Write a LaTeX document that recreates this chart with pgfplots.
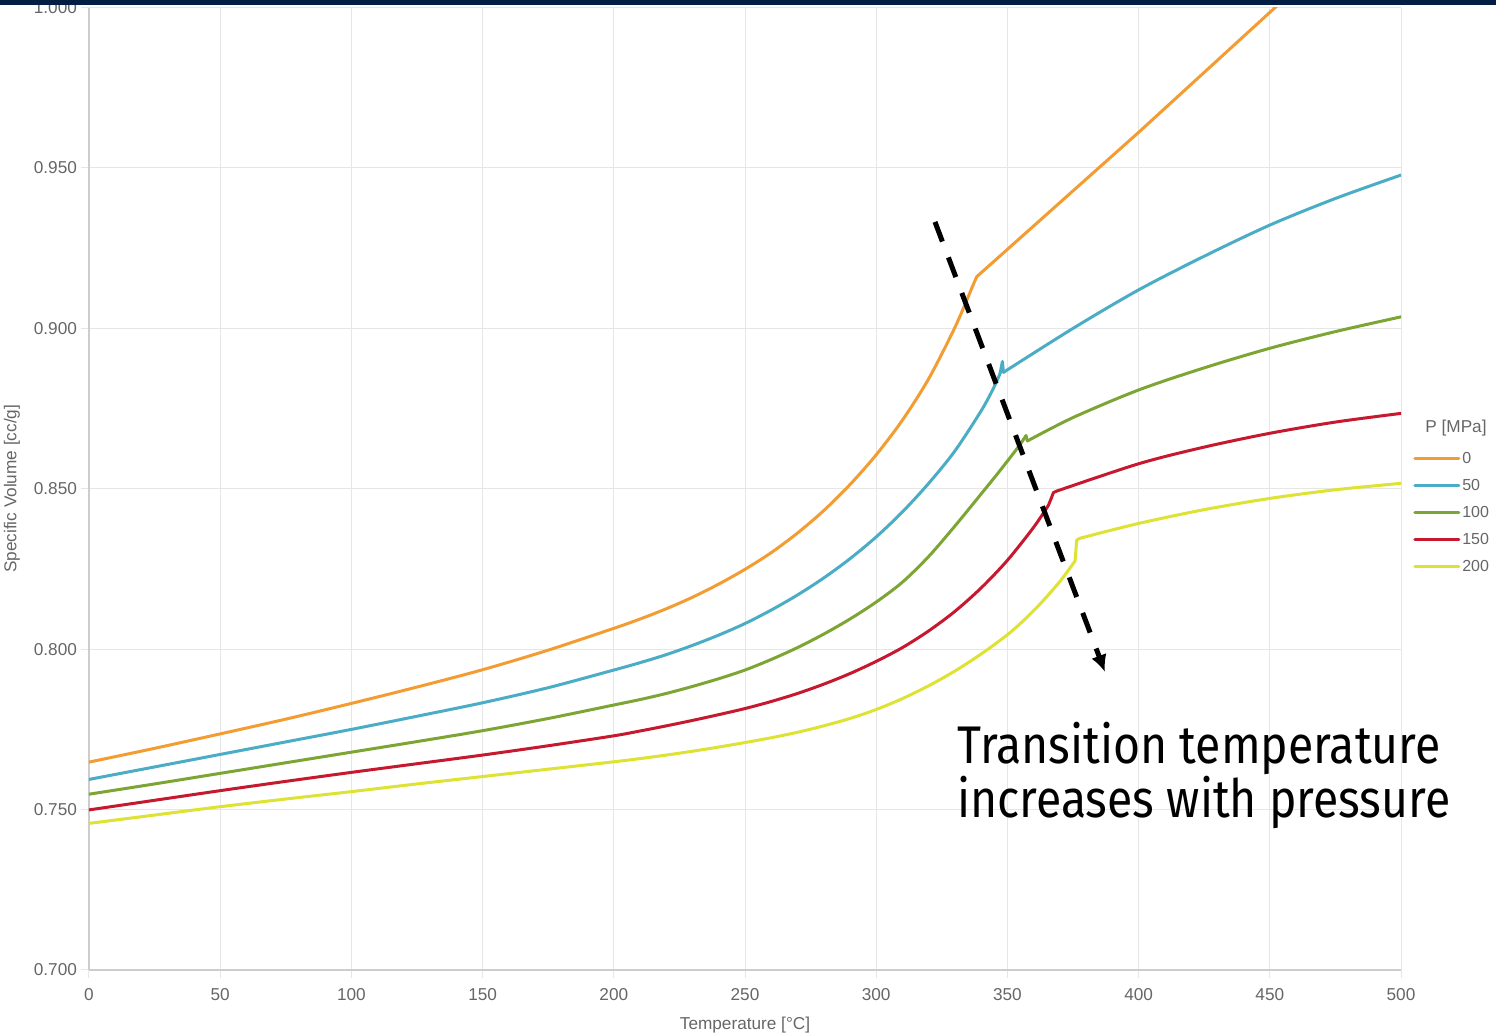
\documentclass[border=0pt]{standalone}
\usepackage{fontspec}
\setmainfont{Liberation Sans}
\newfontfamily\notefont[FakeStretch=0.875]{Fira Sans}
\usepackage{pgfplots}
\pgfplotsset{compat=1.18}
\usetikzlibrary{arrows.meta}

\definecolor{pOrange}{RGB}{242,156,50}
\definecolor{pBlue}{RGB}{75,172,198}
\definecolor{pGreen}{RGB}{124,165,52}
\definecolor{pRed}{RGB}{198,24,46}
\definecolor{pYellow}{RGB}{222,226,50}
\definecolor{barNavy}{RGB}{2,30,66}
\definecolor{gridGray}{RGB}{230,230,230}
\definecolor{axisGray}{RGB}{205,205,205}
\definecolor{labelGray}{RGB}{102,102,102}

\begin{document}
\begin{tikzpicture}
\path[use as bounding box, clip] (0,0) rectangle (748pt,516.5pt);
\begin{axis}[
  at={(44.5pt,31.5pt)}, anchor=south west,
  scale only axis, width=656pt, height=481.2pt,
  xmin=0, xmax=500, ymin=0.7, ymax=1.0,
  axis x line*=bottom, axis y line*=left,
  axis line style={draw=axisGray, line width=0.6pt, -},
  xtick={0,50,...,500},
  ytick={0.70,0.75,0.80,0.85,0.90,0.95,1.00},
  grid=major, grid style={draw=gridGray, line width=0.5pt},
  tick align=outside, major tick length=4pt,
  tick style={draw=gridGray, line width=0.5pt},
  ticklabel style={font=\fontsize{8.6}{10}\selectfont, text=labelGray},
  xticklabel style={yshift=-1.5pt},
  yticklabel style={xshift=1.5pt},
  /pgf/number format/assume math mode=true,
  yticklabel style={/pgf/number format/fixed, /pgf/number format/fixed zerofill,
    /pgf/number format/precision=3},
  xlabel={Temperature [°C]}, ylabel={Specific Volume [cc/g]},
  label style={font=\fontsize{8.6}{10}\selectfont, text=labelGray},
  xlabel style={at={(axis description cs:0.5,-0.0572)}, anchor=center},
  ylabel style={at={(axis description cs:-0.0587,0.5)}, anchor=center},
  legend style={at={(axis description cs:1.0091,0.541)}, anchor=north west,
    draw=none, fill=none, inner sep=0pt, row sep=4.5pt,
    font=\fontsize{8}{9.6}\selectfont, text=labelGray,
    nodes={inner sep=1pt, text height=6pt, text depth=1pt},
    /tikz/every even column/.append style={column sep=3pt}},
  legend cell align=left,
  legend image code/.code={\draw[line width=1.5pt] (0pt,0pt) -- (22pt,0pt);},
  every axis plot/.append style={line width=1.5pt, line join=round, line cap=round},
]
% 0 MPa: solid branch, then melt branch after the transition
\addplot[pOrange, smooth] coordinates {
 (0,0.7648)(25,0.7691)(50,0.7736)(75,0.7782)(100,0.7831)(125,0.7882)
 (150,0.7936)(175,0.7997)(200,0.8065)(210,0.8094)(220,0.8126)(230,0.8162)
 (240,0.8203)(250,0.8249)(260,0.8301)(270,0.8362)(280,0.8432)(290,0.8513)
 (300,0.8606)(310,0.8714)(320,0.8843)(330,0.9003)(336.4,0.9125)};
\addlegendentry{0}
\addplot[pOrange, forget plot] coordinates {
 (336.4,0.9125)(338.3,0.9161)(400,0.9611)(452,1.0000)(500,1.0355)};
% 50 MPa
\addplot[pBlue, smooth] coordinates {
 (0,0.7594)(25,0.7633)(50,0.7672)(75,0.7711)(100,0.7750)(125,0.7791)
 (150,0.7833)(175,0.7880)(200,0.7935)(210,0.7958)(220,0.7983)(230,0.8012)
 (240,0.8044)(250,0.8080)(260,0.8122)(270,0.8169)(280,0.8222)(290,0.8282)
 (300,0.8350)(310,0.8428)(320,0.8517)(330,0.8618)(340,0.8743)(344.6,0.8812)
 (347.2,0.8859)};
\addlegendentry{50}
\addplot[pBlue, forget plot] coordinates {
 (347.2,0.8859)(348.1,0.8897)(348.5,0.8863)};
\addplot[pBlue, smooth, forget plot] coordinates {
 (348.5,0.8863)(375,0.9000)(400,0.9120)(425,0.9225)(450,0.9322)
 (475,0.9405)(500,0.9478)};
% 100 MPa
\addplot[pGreen, smooth] coordinates {
 (0,0.7548)(25,0.7580)(50,0.7613)(75,0.7646)(100,0.7679)(125,0.7712)
 (150,0.7746)(175,0.7784)(200,0.7826)(210,0.7843)(220,0.7862)(230,0.7884)
 (240,0.7908)(250,0.7935)(260,0.7968)(270,0.8005)(280,0.8047)(290,0.8094)
 (300,0.8147)(310,0.8209)(320,0.8289)(330,0.8384)(340,0.8484)(347.2,0.8557)
 (354.2,0.8631)(357.1,0.8666)};
\addlegendentry{100}
\addplot[pGreen, forget plot] coordinates {
 (357.1,0.8666)(357.6,0.8649)};
\addplot[pGreen, smooth, forget plot] coordinates {
 (357.6,0.8649)(375,0.8722)(400,0.8808)(425,0.8877)(450,0.8938)
 (475,0.8990)(500,0.9036)};
% 150 MPa
\addplot[pRed, smooth] coordinates {
 (0,0.7499)(25,0.7529)(50,0.7559)(75,0.7588)(100,0.7616)(125,0.7643)
 (150,0.7670)(175,0.7699)(200,0.7730)(210,0.7745)(220,0.7761)(230,0.7778)
 (240,0.7796)(250,0.7815)(260,0.7837)(270,0.7862)(280,0.7891)(290,0.7924)
 (300,0.7962)(310,0.8005)(320,0.8057)(330,0.8118)(340,0.8191)(350,0.8277)
 (360,0.8380)(365.6,0.8448)};
\addlegendentry{150}
\addplot[pRed, forget plot] coordinates {
 (365.6,0.8448)(366.9,0.8474)(367.5,0.8488)(368.5,0.8492)};
\addplot[pRed, smooth, forget plot] coordinates {
 (368.5,0.8492)(400,0.8578)(425,0.8630)(450,0.8673)(475,0.8708)(500,0.8735)};
% 200 MPa
\addplot[pYellow, smooth] coordinates {
 (0,0.7457)(25,0.7483)(50,0.7509)(75,0.7533)(100,0.7556)(125,0.7580)
 (150,0.7603)(175,0.7626)(200,0.7649)(210,0.7659)(220,0.7670)(230,0.7682)
 (240,0.7695)(250,0.7709)(260,0.7724)(270,0.7741)(280,0.7761)(290,0.7784)
 (300,0.7812)(310,0.7846)(320,0.7886)(330,0.7932)(340,0.7985)(350,0.8045)
 (356.1,0.8089)(360,0.8120)(363.7,0.8152)(370,0.8211)(375.8,0.8275)};
\addlegendentry{200}
\addplot[pYellow, forget plot] coordinates {
 (375.8,0.8275)(376.4,0.8340)(377.7,0.8346)};
\addplot[pYellow, smooth, forget plot] coordinates {
 (377.7,0.8346)(400,0.8392)(425,0.8435)(450,0.8470)(475,0.8497)(500,0.8517)};
% transition trend arrow
\draw[black, line width=2.5pt, dash pattern=on 10.5pt off 8.5pt,
  -{Latex[length=8.5pt,width=8pt]}]
  (axis cs:322.4,0.9332) -- (axis cs:387.2,0.7929);
\end{axis}
\node[font=\fontsize{8.6}{10}\selectfont, text=labelGray] at (728pt,302.5pt) {P [MPa]};
\node[anchor=base west, inner sep=0pt, font=\notefont\fontsize{26.5}{32}\selectfont]
  at (478.5pt,134.8pt) {Transition temperature};
\node[anchor=base west, inner sep=0pt, font=\notefont\fontsize{26.5}{32}\selectfont]
  at (478.5pt,107.5pt) {increases with pressure};
\fill[barNavy] (0,514pt) rectangle (748pt,516.5pt);
\end{tikzpicture}
\end{document}
